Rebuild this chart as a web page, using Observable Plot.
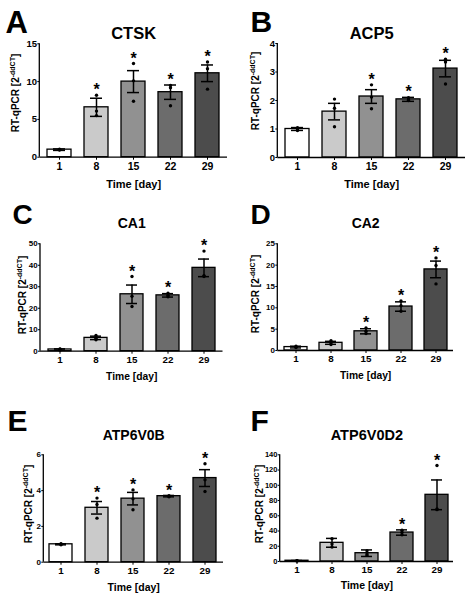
<!DOCTYPE html>
<html>
<head>
<meta charset="utf-8">
<script src="https://cdn.jsdelivr.net/npm/d3@7"></script>
<script src="https://cdn.jsdelivr.net/npm/@observablehq/plot@0.6"></script>
<style>
  html, body { margin: 0; padding: 0; background: #fff; }
  #fig { position: relative; width: 476px; height: 600px; overflow: hidden; background: #fff; }
  .panel { position: absolute; width: 238px; height: 200px; }
  .panel svg { overflow: visible; }
</style>
</head>
<body>
<div id="fig"></div>
<script>
// ---------- data ----------
const days = ["1", "8", "15", "22", "29"];
const barFills = ["#ffffff", "#cacaca", "#919191", "#6c6c6c", "#4c4c4c"];
const genes = ["CTSK", "ACP5", "CA1", "CA2", "ATP6V0B", "ATP6V0D2"];
const panelLetters = ["A", "B", "C", "D", "E", "F"];
const xTitle = "Time [day]";

const meanCTSK = [1.0, 6.6, 10.0, 8.6, 11.1];
const semCTSK = [0.1, 1.2, 1.45, 0.95, 1.1];
const ptsCTSK = [[0.95, 1.0, 1.05], [8.2, 5.5, 6.1], [12.4, 10.1, 7.4], [9.2, 6.8, 9.5], [12.6, 11.7, 9.0]];
const sigCTSK = [0, 1, 1, 1, 1];
const ticksCTSK = [0, 5, 10, 15];

const meanACP5 = [1.0, 1.61, 2.14, 2.04, 3.12];
const semACP5 = [0.05, 0.29, 0.24, 0.07, 0.29];
const ptsACP5 = [[0.95, 1.0, 1.05], [2.05, 1.73, 1.08], [2.55, 2.12, 1.71], [2.1, 2.0, 2.03], [3.45, 3.35, 2.58]];
const sigACP5 = [0, 0, 1, 1, 1];
const ticksACP5 = [0, 1, 2, 3, 4];

const meanCA1 = [0.8, 6.2, 26.5, 26.0, 38.8];
const semCA1 = [0.3, 0.8, 4.3, 0.8, 4.1];
const ptsCA1 = [[0.5, 0.9, 1.0], [7.3, 6.0, 5.3], [34.8, 25.6, 20.8], [27.0, 26.0, 25.3], [46.6, 35.2, 34.8]];
const sigCA1 = [0, 0, 1, 1, 1];
const ticksCA1 = [0, 10, 20, 30, 40, 50];

const meanCA2 = [0.8, 1.8, 4.5, 10.3, 19.0];
const semCA2 = [0.2, 0.35, 0.6, 1.1, 1.95];
const ptsCA2 = [[0.7, 0.8, 1.0], [2.3, 1.8, 1.4], [5.3, 4.5, 4.0], [11.6, 10.5, 9.2], [21.7, 19.9, 15.6]];
const sigCA2 = [0, 0, 1, 1, 1];
const ticksCA2 = [0, 5, 10, 15, 20, 25];

const meanATP6V0B = [1.0, 3.04, 3.55, 3.69, 4.7];
const semATP6V0B = [0.03, 0.35, 0.35, 0.04, 0.47];
const ptsATP6V0B = [[0.97, 1.0, 1.03], [3.58, 3.22, 2.46], [4.04, 3.54, 2.93], [3.72, 3.68, 3.66], [5.5, 4.6, 3.95]];
const sigATP6V0B = [0, 1, 1, 1, 1];
const ticksATP6V0B = [0, 2, 4, 6];

const meanATP6V0D2 = [1.0, 24.5, 10.9, 38.0, 87.5];
const semATP6V0D2 = [0.3, 5.8, 4.3, 3.5, 19.5];
const ptsATP6V0D2 = [[0.8, 1.0, 1.2], [30, 23, 19], [14, 10, 8], [41, 38, 35], [126, 69, 68]];
const sigATP6V0D2 = [0, 0, 0, 1, 1];
const ticksATP6V0D2 = [0, 20, 40, 60, 80, 100, 120, 140];

// ---------- layout (pixels) ----------
const layout = [
  {left: 0,   top: 0,   mL: 39.3, mR: 11, mT: 43.3, mB: 43.3, titleDy: -10, titleFont: 16.5, tickFont: 9.5, xFont: 10.5, xlabFont: 11, xlabDy: 27, letterDx: -34.3, letterDy: -11.3, letterFont: 31, ylabX: 15, ylabY: 93},
  {left: 238, top: 0,   mL: 39.3, mR: 11, mT: 43,   mB: 43,   titleDy: -10, titleFont: 16.5, tickFont: 9.5, xFont: 10.5, xlabFont: 11, xlabDy: 27, letterDx: -27.3, letterDy: -12,   letterFont: 30, ylabX: 255, ylabY: 91},
  {left: 0,   top: 200, mL: 40,   mR: 15.5, mT: 43.3, mB: 49.3, titleDy: -20, titleFont: 14, tickFont: 8, xFont: 9.8, xlabFont: 10.3, xlabDy: 26, letterDx: -28, letterDy: -20.3, letterFont: 28, ylabX: 22, ylabY: 295},
  {left: 238, top: 200, mL: 39.3, mR: 23, mT: 43.3, mB: 50,   titleDy: -20, titleFont: 14, tickFont: 8, xFont: 9.8, xlabFont: 10.3, xlabDy: 25.7, letterDx: -27.3, letterDy: -20.3, letterFont: 28, ylabX: 255, ylabY: 294},
  {left: 0,   top: 400, mL: 43.3, mR: 15, mT: 54.3, mB: 38.3, titleDy: -19, titleFont: 14, tickFont: 8, xFont: 9.8, xlabFont: 10.5, xlabDy: 25.6, letterDx: -36.3, letterDy: -24.3, letterFont: 30, ylabX: 28, ylabY: 504},
  {left: 238, top: 400, mL: 41.7, mR: 23, mT: 54.3, mB: 39,   titleDy: -19, titleFont: 14.5, tickFont: 7.5, xFont: 9.8, xlabFont: 10.5, xlabDy: 24, letterDx: -29.7, letterDy: -24.3, letterFont: 30, ylabX: 259, ylabY: 504}
];

const panels = [
  {mean: meanCTSK, sem: semCTSK, pts: ptsCTSK, sig: sigCTSK, ticks: ticksCTSK},
  {mean: meanACP5, sem: semACP5, pts: ptsACP5, sig: sigACP5, ticks: ticksACP5},
  {mean: meanCA1, sem: semCA1, pts: ptsCA1, sig: sigCA1, ticks: ticksCA1},
  {mean: meanCA2, sem: semCA2, pts: ptsCA2, sig: sigCA2, ticks: ticksCA2},
  {mean: meanATP6V0B, sem: semATP6V0B, pts: ptsATP6V0B, sig: sigATP6V0B, ticks: ticksATP6V0B},
  {mean: meanATP6V0D2, sem: semATP6V0D2, pts: ptsATP6V0D2, sig: sigATP6V0D2, ticks: ticksATP6V0D2}
];

const FONT = "'Liberation Sans', Arial, Helvetica, sans-serif";
const fig = document.getElementById("fig");

panels.forEach((p, k) => {
  const L = layout[k];
  const rows = days.map((d, i) => ({
    day: d,
    mean: p.mean[i],
    lo: p.mean[i] - p.sem[i],
    hi: p.mean[i] + p.sem[i],
    sig: p.sig[i],
    top: Math.max(p.mean[i] + p.sem[i], ...p.pts[i])
  }));
  const pts = days.flatMap((d, i) => p.pts[i].map(v => ({day: d, v})));
  const yMax = p.ticks[p.ticks.length - 1];

  const plot = Plot.plot({
    width: 238,
    height: 200,
    marginLeft: L.mL, marginRight: L.mR, marginTop: L.mT, marginBottom: L.mB,
    style: {fontFamily: FONT, fontWeight: "bold", background: "transparent", color: "#000"},
    x: {type: "band", domain: days, paddingInner: 0.35, paddingOuter: 0.15, label: null},
    y: {domain: [0, yMax], label: null},
    color: {domain: days, range: barFills},
    marks: [
      Plot.barY(rows, {x: "day", y: "mean", fill: "day", stroke: "#000", strokeWidth: 1.3}),
      Plot.ruleX(rows, {x: "day", y1: "lo", y2: "hi", stroke: "#000", strokeWidth: 1.5}),
      Plot.tickY(rows, {x: "day", y: "hi", stroke: "#000", strokeWidth: 1.5, insetLeft: 6, insetRight: 6}),
      Plot.tickY(rows, {x: "day", y: "lo", stroke: "#000", strokeWidth: 1.5, insetLeft: 6, insetRight: 6}),
      Plot.dot(pts, {x: "day", y: "v", r: 1.7, fill: "#000", stroke: null}),
      Plot.text(rows.filter(r => r.sig), {x: "day", y: "top", text: () => "*", dy: -5, fontSize: 16, fontWeight: "bold", lineAnchor: "middle"}),
      Plot.ruleY([0], {stroke: "#000", strokeWidth: 1.3}),
      Plot.axisY({ticks: p.ticks, tickSize: 2, tickPadding: 0.8, fontSize: L.tickFont, fontWeight: "bold", label: null, tickFormat: d => String(d)}),
      Plot.axisX({tickSize: 3, tickPadding: 2, fontSize: L.xFont, fontWeight: "bold", label: null}),
      Plot.text([genes[k]], {text: d => d, frameAnchor: "top", dy: L.titleDy, fontSize: L.titleFont, fontWeight: "bold", lineAnchor: "middle"}),
      Plot.text([xTitle], {text: d => d, frameAnchor: "bottom", dy: L.xlabDy, fontSize: L.xlabFont, fontWeight: "bold", lineAnchor: "middle"}),
      Plot.text([panelLetters[k]], {text: d => d, frameAnchor: "top-left", dx: L.letterDx, dy: L.letterDy, fontSize: L.letterFont, fontWeight: "bold", textAnchor: "start", lineAnchor: "bottom"})
    ]
  });

  // y-axis line and rotated y label with superscript
  const svg = d3.select(plot);
  const xr = plot.scale("x").range;
  const yr = plot.scale("y").range;
  svg.append("line")
    .attr("x1", xr[0]).attr("x2", xr[0])
    .attr("y1", yr[0]).attr("y2", yr[1])
    .attr("stroke", "#000").attr("stroke-width", 1.3);
  const t = svg.append("text")
    .attr("transform", `translate(${L.ylabX - L.left},${L.ylabY - L.top}) rotate(-90)`)
    .attr("text-anchor", "middle")
    .attr("dy", "0.35em")
    .attr("font-size", 10)
    .attr("font-weight", "bold")
    .attr("font-family", FONT);
  t.append("tspan").text("RT-qPCR [2");
  t.append("tspan").attr("font-size", 7).attr("dy", -4).text("-ddCT");
  t.append("tspan").attr("dy", 4).text("]");

  const div = document.createElement("div");
  div.className = "panel";
  div.style.left = L.left + "px";
  div.style.top = L.top + "px";
  div.appendChild(plot);
  fig.appendChild(div);
});
</script>
</body>
</html>
